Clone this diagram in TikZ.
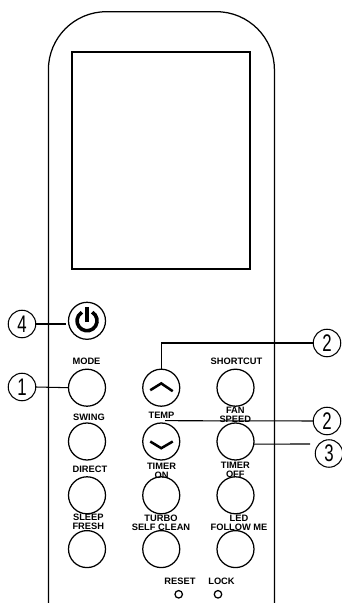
\documentclass[tikz,border=0pt]{standalone}
\usepackage{fontspec}
\setsansfont{Liberation Sans}
\usetikzlibrary{positioning}

\begin{document}
\begin{tikzpicture}[x=1pt, y=1pt,
  btn/.style={draw=black, line width=1.25pt, circle, minimum size=37pt, inner sep=0pt, outer sep=0pt},
  callout/.style={draw=black, line width=1.05pt, circle, minimum size=27.5pt, inner sep=0pt, outer sep=0pt, font=\fontsize{24}{24}\selectfont\sffamily},
  led/.style={draw=black, line width=1.25pt, circle, minimum size=7.5pt, inner sep=0pt, outer sep=0pt},
  lab/.style={inner sep=0pt, align=center, font=\fontsize{9.3}{9}\selectfont\sffamily\bfseries},
  lead/.style={line width=1.05pt, black}]
\useasboundingbox (0,0) rectangle (342,603);
% remote body and display
\draw[line width=1.25pt, rounded corners=58pt] (48.4,0) -- (48.4,591.3) -- (274.4,591.3) -- (274.4,0);
\draw[line width=1.25pt] (72,334) rectangle (250,551);
% buttons
\node[btn] (mode) at (87,215.3) {};
\node[btn, above=29.9pt of mode] (power) {};
\node[btn, right=37.25pt of mode] (tempup) {};
\node[btn, right=37.25pt of tempup] (shortcut) {};
\node[btn, below=16.8pt of mode] (swing) {};
\node[btn, right=37.25pt of swing] (tempdown) {};
\node[btn, right=37.25pt of tempdown] (fanspeed) {};
\node[btn, below=16.8pt of swing] (direct) {};
\node[btn, right=37.25pt of direct] (timeron) {};
\node[btn, right=37.25pt of timeron] (timeroff) {};
\node[btn, below=16.8pt of direct] (sleep) {};
\node[btn, right=37.25pt of sleep] (turbo) {};
\node[btn, right=37.25pt of turbo] (ledbtn) {};
\node[led] (reset) at (178.7,8.7) {};
\node[led] (lock) at (218,8.7) {};
% glyphs on buttons
\draw[line width=3.6pt] ([shift={(5.2pt,8.6pt)}]power.center) arc[start angle=59, end angle=-239, radius=10pt];
\draw[line width=3.6pt] ([yshift=14pt]power.center) -- ([yshift=-1pt]power.center);
\draw[line width=2.5pt] ([shift={(-11pt,-2.5pt)}]tempup.center) -- ([yshift=4.3pt]tempup.center) -- ([shift={(11.5pt,-3.5pt)}]tempup.center);
\draw[line width=2.5pt] ([shift={(-11pt,0pt)}]tempdown.center) -- ([yshift=-6.7pt]tempdown.center) -- ([shift={(11.5pt,0pt)}]tempdown.center);
% button labels
\node[lab] (lmode) at (86.5,241.3) {MODE};
\node[lab] (lshortcut) at (236.5,241.3) {SHORTCUT};
\node[lab] (lswing) at (89,186) {SWING};
\node[lab] (ltemp) at (161.5,187.5) {TEMP};
\node[lab] (lfan) at (235.3,188.5) {FAN\\SPEED};
\node[lab] (ldirect) at (90,133.5) {DIRECT};
\node[lab] (lton) at (161.5,132.5) {TIMER\\ON};
\node[lab] (ltoff) at (235.3,133.5) {TIMER\\OFF};
\node[lab] (lsleep) at (88.3,81) {SLEEP\\FRESH};
\node[lab] (lturbo) at (161,80) {TURBO\\SELF CLEAN};
\node[lab] (lled) at (239,80) {LED\\FOLLOW ME};
\node[lab] (lreset) at (180,22) {RESET};
\node[lab] (llock) at (221.5,22) {LOCK};
% numbered callouts
\node[callout] (callfour) at (22,279) {\scalebox{.7}[1]{4}};
\node[callout] (callone) at (22,216) {\scalebox{.7}[1]{1}};
\node[callout] (calltwoa) at (327,260) {\scalebox{.7}[1]{2}};
\node[callout] (calltwob) at (327,182) {\scalebox{.7}[1]{2}};
\node[callout] (callthree) at (329,149.5) {\scalebox{.7}[1]{3}};
\coordinate (tempend) at (165,182.3);
\coordinate (threeend) at (310,159);
\draw[lead, shorten >=2.5pt] (callfour.east) -- (callfour.east -| power.west);
\draw[lead] (callone.east) -- (mode.west);
\draw[lead] (tempup.north) |- (calltwoa.west);
\draw[lead] (tempend) -- (calltwob.west);
\draw[lead] (fanspeed.-8) -- (threeend);
\end{tikzpicture}
\end{document}
